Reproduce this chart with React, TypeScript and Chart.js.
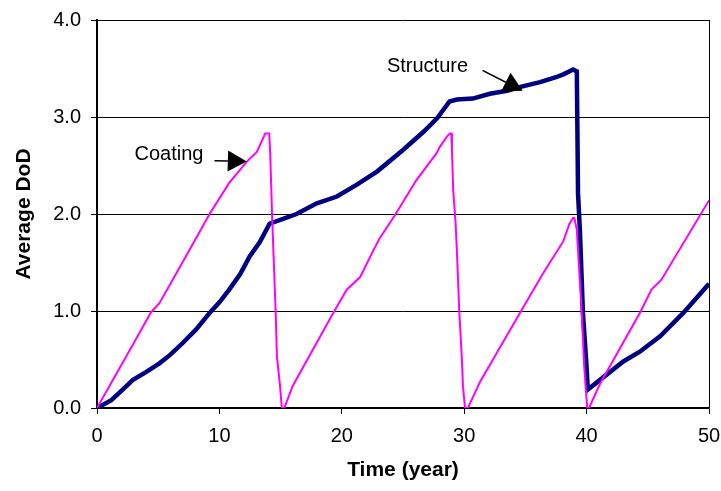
import React, { useEffect, useRef } from "react";
import { Chart, registerables } from "chart.js";
Chart.register(...registerables);

const structureX = [0, 1.17, 2.1, 2.94, 4, 5.1, 6, 7, 8.1, 9.2, 10, 10.8, 11.7, 12.46, 13.3, 14.1, 15.2, 16.3, 17.96, 19.6, 21.2, 22.9, 25, 26.7, 27.8, 28.8, 29.4, 30.7, 32.1, 33.5, 34.6, 36.2, 37.5, 38.1, 38.9, 39.2, 39.3, 39.45, 39.7, 39.98, 40.1, 41.1, 43, 44.35, 46, 47.9, 50];
const structureY = [0, 0.08, 0.19, 0.29, 0.37, 0.46, 0.55, 0.67, 0.81, 0.98, 1.09, 1.22, 1.38, 1.56, 1.71, 1.9, 1.95, 2.0, 2.11, 2.18, 2.3, 2.44, 2.66, 2.85, 2.99, 3.16, 3.18, 3.19, 3.24, 3.27, 3.31, 3.36, 3.41, 3.44, 3.49, 3.47, 2.21, 1.84, 0.98, 0.46, 0.19, 0.29, 0.48, 0.58, 0.74, 0.98, 1.28];

const coatingX = [0, 2.2, 4.43, 5.1, 7.2, 9.2, 10.8, 12.24, 13.06, 13.74, 14.07, 14.15, 14.3, 14.6, 14.7, 14.96, 15.1, 15.3, 16.0, 19.3, 20.4, 21.5, 22.6, 23.1, 24.35, 26.1, 27.76, 28.0, 28.6, 28.84, 28.95, 29.0, 29.1, 29.3, 29.4, 29.6, 29.8, 29.9, 30.07, 30.3, 31.0, 31.3, 34.6, 36.5, 38.1, 38.6, 38.9, 39.0, 39.2, 39.6, 39.8, 39.94, 40.05, 40.2, 41.1, 44.35, 45.3, 46.1, 50];
const coatingY = [0, 0.49, 0.99, 1.08, 1.55, 2.0, 2.32, 2.54, 2.64, 2.83, 2.83, 2.63, 2.0, 0.98, 0.53, 0.22, 0, 0, 0.23, 0.98, 1.22, 1.35, 1.63, 1.75, 1.99, 2.35, 2.63, 2.69, 2.8, 2.83, 2.83, 2.66, 2.25, 1.9, 1.63, 0.99, 0.53, 0.22, 0, 0, 0.19, 0.27, 0.99, 1.4, 1.72, 1.9, 1.96, 1.96, 1.84, 0.99, 0.44, 0.19, 0, 0, 0.25, 0.98, 1.22, 1.32, 2.14];

const yTicks = [0, 1, 2, 3, 4];
const xTicks = [0, 10, 20, 30, 40, 50];

const xTitle = "Time (year)";
const yTitle = "Average DoD";

// annotations: label position and arrow (start -> tip) in data units
const annotations = [
  { text: "Coating", tx: 5.88, ty: 2.61, x0: 9.6, y0: 2.55, x1: 12.24, y1: 2.54 },
  { text: "Structure", tx: 27.0, ty: 3.52, x0: 31.5, y0: 3.48, x1: 34.78, y1: 3.27 },
];

const FONT = "'Liberation Sans', Arial, sans-serif";

const toPts = (xs: number[], ys: number[]) => xs.map((x, i) => ({ x, y: ys[i] }));

const decorPlugin = {
  id: "decor",
  afterDraw(chart: any) {
    const { ctx, chartArea, scales } = chart;
    const xs = scales.x;
    const ys = scales.y;
    ctx.save();
    // right border
    ctx.strokeStyle = "#000";
    ctx.lineWidth = 1;
    ctx.beginPath();
    ctx.moveTo(chartArea.right + 0.5, chartArea.top);
    ctx.lineTo(chartArea.right + 0.5, chartArea.bottom);
    ctx.stroke();

    // annotations
    ctx.fillStyle = "#000";
    ctx.font = `20px ${FONT}`;
    ctx.textAlign = "center";
    ctx.textBaseline = "middle";
    for (const a of annotations) {
      ctx.fillText(a.text, xs.getPixelForValue(a.tx), ys.getPixelForValue(a.ty));
      const px0 = xs.getPixelForValue(a.x0);
      const py0 = ys.getPixelForValue(a.y0);
      const px1 = xs.getPixelForValue(a.x1);
      const py1 = ys.getPixelForValue(a.y1);
      const ang = Math.atan2(py1 - py0, px1 - px0);
      const hl = 19;
      const hw = 10.5;
      const bx = px1 - hl * Math.cos(ang);
      const by = py1 - hl * Math.sin(ang);
      ctx.lineWidth = 1.5;
      ctx.beginPath();
      ctx.moveTo(px0, py0);
      ctx.lineTo(bx, by);
      ctx.stroke();
      ctx.beginPath();
      ctx.moveTo(px1, py1);
      ctx.lineTo(bx + hw * Math.sin(ang), by - hw * Math.cos(ang));
      ctx.lineTo(bx - hw * Math.sin(ang), by + hw * Math.cos(ang));
      ctx.closePath();
      ctx.fill();
    }

    // axis titles
    ctx.font = `bold 21px ${FONT}`;
    ctx.textAlign = "center";
    ctx.textBaseline = "middle";
    ctx.fillText(xTitle, (chartArea.left + chartArea.right) / 2, chartArea.bottom + 62);
    ctx.translate(chartArea.left - 73, (chartArea.top + chartArea.bottom) / 2);
    ctx.rotate(-Math.PI / 2);
    ctx.fillText(yTitle, 0, 0);
    ctx.restore();
  },
};

export default function App() {
  const ref = useRef<HTMLCanvasElement>(null);
  useEffect(() => {
    document.body.style.margin = "0";
    const canvas = ref.current;
    if (!canvas) return;
    const chart = new Chart(canvas, {
      type: "line",
      data: {
        datasets: [
          {
            label: "Coating",
            data: toPts(coatingX, coatingY),
            borderColor: "#FF00FF",
            borderWidth: 2,
            pointRadius: 0,
            tension: 0,
            fill: false,
          },
          {
            label: "Structure",
            data: toPts(structureX, structureY),
            borderColor: "#000080",
            borderWidth: 4.5,
            pointRadius: 0,
            tension: 0,
            fill: false,
          },
        ],
      },
      options: {
        animation: false,
        responsive: false,
        devicePixelRatio: 1,
        layout: { padding: { top: 20, right: 12, left: 0, bottom: 0 } },
        plugins: { legend: { display: false }, tooltip: { enabled: false } },
        scales: {
          x: {
            type: "linear",
            min: 0,
            max: 50,
            afterBuildTicks: (s: any) => {
              s.ticks = xTicks.map((v) => ({ value: v }));
            },
            afterFit: (s: any) => {
              s.height = 83;
              s.paddingRight = 0;
              s.paddingLeft = 0;
            },
            ticks: {
              color: "#000",
              font: { family: FONT, size: 20 },
              padding: 10,
              maxRotation: 0,
              callback: (v: any) => String(v),
            },
            grid: {
              drawOnChartArea: false,
              drawTicks: true,
              tickLength: 6,
              color: "#000",
              tickColor: "#000",
            },
            border: { display: true, color: "#000", width: 1.5 },
          },
          y: {
            type: "linear",
            min: 0,
            max: 4,
            afterBuildTicks: (s: any) => {
              s.ticks = yTicks.map((v) => ({ value: v }));
            },
            afterFit: (s: any) => {
              s.width = 97;
              s.paddingTop = 0;
              s.paddingBottom = 0;
            },
            ticks: {
              color: "#000",
              font: { family: FONT, size: 20 },
              padding: 10,
              callback: (v: any) => Number(v).toFixed(1),
            },
            grid: {
              drawOnChartArea: true,
              drawTicks: true,
              tickLength: 6,
              color: "#000",
              tickColor: "#000",
              lineWidth: 1,
            },
            border: { display: true, color: "#000", width: 2 },
          },
        },
      },
      plugins: [decorPlugin],
    });
    return () => chart.destroy();
  }, []);
  return (
    <canvas
      ref={ref}
      width={721}
      height={491}
      style={{ display: "block", width: 721, height: 491 }}
    />
  );
}
